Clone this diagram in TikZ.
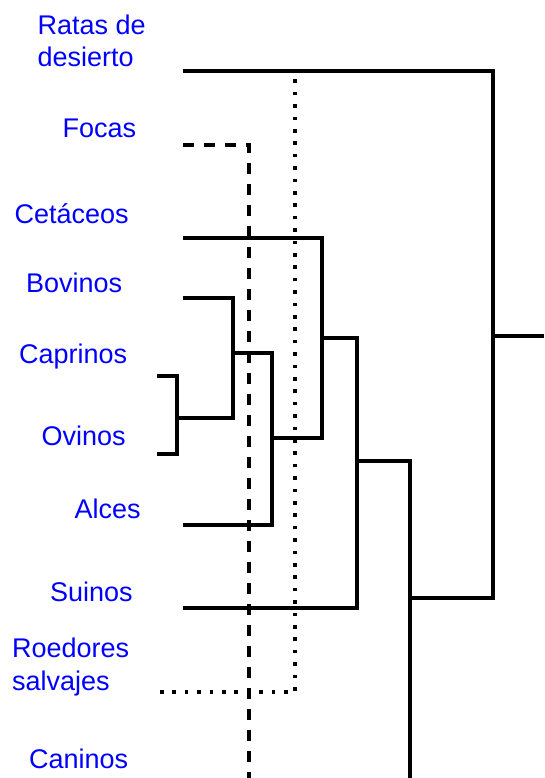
\documentclass[tikz,border=0pt]{standalone}
\usepackage{fontspec}
\setmainfont{Liberation Sans}
\begin{document}
\begin{tikzpicture}[x=1pt,y=-1pt,
  leaf/.style={anchor=base west,inner sep=0pt,text=blue,font=\fontsize{27}{32}\selectfont},
  branch/.style={draw=black,line width=3.4pt},
  dashbranch/.style={draw=black,line width=3.2pt,dash pattern=on 11pt off 10pt},
  dotbranch/.style={draw=black,line width=3.6pt,dash pattern=on 3.6pt off 8.8pt}]
\useasboundingbox (0,0) rectangle (544,778);

% taxon labels
\node[leaf] (ratasA) at (37.5,35) {Ratas de};
\node[leaf] (ratasB) at (37.5,67) {desierto};
\node[leaf] (focas) at (62.5,138) {Focas};
\node[leaf] (cetaceos) at (14.5,223) {Cetáceos};
\node[leaf] (bovinos) at (26,292) {Bovinos};
\node[leaf] (caprinos) at (19,363) {Caprinos};
\node[leaf] (ovinos) at (41.5,445) {Ovinos};
\node[leaf] (alces) at (74.5,518) {Alces};
\node[leaf] (suinos) at (50,601) {Suinos};
\node[leaf] (roedA) at (12,657) {Roedores};
\node[leaf] (roedB) at (12,690) {salvajes};
\node[leaf] (caninos) at (29,768) {Caninos};

% leaf ends of the branches
\coordinate (lRat) at (183,71);
\coordinate (lFoc) at (183,145);
\coordinate (lCet) at (183,238);
\coordinate (lBov) at (183,298);
\coordinate (lCap) at (157,376);
\coordinate (lOvi) at (157,454);
\coordinate (lAlc) at (183,525);
\coordinate (lSui) at (183,608);
\coordinate (lRoe) at (160,692);
\coordinate (bFoc) at (249,778);
\coordinate (bCan) at (410,778);
\coordinate (tRoe) at (295,71);
\coordinate (root) at (544,336);

% inner junctions
\coordinate (jCO) at (177,418);
\coordinate (jBCO) at (233,353);
\coordinate (jBCOA) at (272,438);
\coordinate (jCet) at (322,338);
\coordinate (jSui) at (357,461);
\coordinate (jCan) at (410,598);
\coordinate (jRat) at (493,336);

% dashed and dotted lineages
\draw[dashbranch] (lFoc) -| (bFoc);
\draw[dotbranch] (lRoe) -| (tRoe);

% solid tree
\draw[branch] (lCap) -| (jCO) |- (lOvi);
\draw[branch] (jCO) -| (233,298) -- (lBov);
\draw[branch] (jCO -| jBCO) |- (jBCO);
\draw[branch] (jBCO) -| (jBCOA |- lAlc) -- (lAlc);
\draw[branch] (jBCOA) -| (322,238) -- (lCet);
\draw[branch] (jCet) -| (357,608) -- (lSui);
\draw[branch] (jSui) -| (bCan);
\draw[branch] (jCan) -| (493,71) -- (lRat);
\draw[branch] (jRat) -- (root);
\end{tikzpicture}
\end{document}
